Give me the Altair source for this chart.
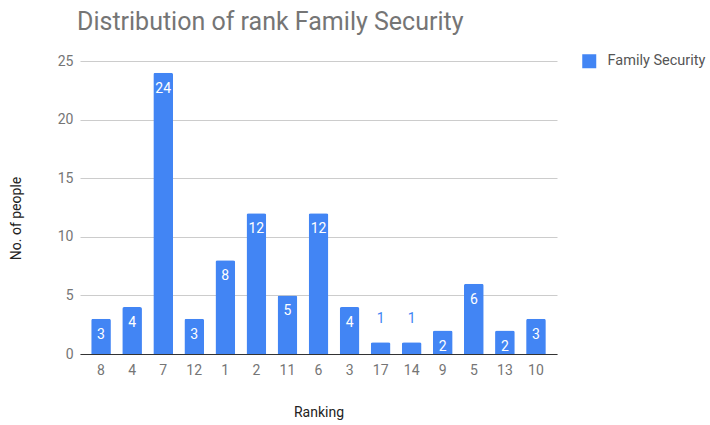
import altair as alt
import pandas as pd

rankings = ["8", "4", "7", "12", "1", "2", "11", "6", "3", "17", "14", "9", "5", "13", "10"]
counts = [3, 4, 24, 3, 8, 12, 5, 12, 4, 1, 1, 2, 6, 2, 3]
series = "Family Security"

df = pd.DataFrame({"Ranking": rankings, "count": counts, "series": [series] * len(rankings)})

FONT = "Roboto"
BLUE = "#4285F4"

x_enc = alt.X(
    "Ranking:N",
    sort=rankings,
    scale=alt.Scale(paddingInner=0.366, paddingOuter=0.36),
    axis=alt.Axis(
        title="Ranking", labelAngle=0, ticks=False, domain=True, domainColor="#333333",
        labelColor="#757575", labelFontSize=14, labelPadding=9, labelFont=FONT,
        titleFont=FONT, titleFontSize=14, titleFontWeight="normal", titleColor="#222222",
        titleY=51, grid=False,
    ),
)
y_enc = alt.Y(
    "count:Q",
    scale=alt.Scale(domain=[0, 25], nice=False),
    axis=alt.Axis(
        title="No. of people", values=[0, 5, 10, 15, 20, 25], ticks=False, domain=False,
        labelColor="#757575", labelFontSize=14, labelPadding=7, labelFont=FONT,
        gridColor="#cccccc", titleFont=FONT, titleFontSize=14, titleFontWeight="normal",
        titleColor="#222222", titleX=-57, titleY=157,
    ),
)

bars = alt.Chart(df).mark_bar(color=BLUE, cornerRadiusTopLeft=2, cornerRadiusTopRight=2).encode(
    x=x_enc,
    y=y_enc,
    color=alt.Color(
        "series:N",
        scale=alt.Scale(domain=[series], range=[BLUE]),
        legend=alt.Legend(
            title=None, orient="none", legendX=502, legendY=-7, symbolType="square",
            symbolSize=196, symbolStrokeWidth=0, labelFont=FONT, labelFontSize=14.5,
            labelColor="#555555", symbolOpacity=1, labelOffset=11,
        ),
    ),
)

inside = alt.Chart(df).transform_filter("datum.count > 1").mark_text(
    color="white", fontSize=14, font=FONT, baseline="middle", dy=16
).encode(x=alt.X("Ranking:N", sort=rankings), y="count:Q", text="count:Q")

above = alt.Chart(df).transform_filter("datum.count <= 1").mark_text(
    color=BLUE, fontSize=14, font=FONT, baseline="middle", dy=-23
).encode(x=alt.X("Ranking:N", sort=rankings), y="count:Q", text="count:Q")

chart = alt.layer(bars, inside, above).properties(
    width=477,
    height=293,
    autosize=alt.AutoSizeParams(type="none"),
    padding={"left": 80, "top": 61, "right": 153, "bottom": 71},
    title=alt.Title(
        "Distribution of rank Family Security", anchor="start", frame="group", font=FONT,
        fontSize=25, fontWeight="normal", color="#757575", offset=19, dx=-3,
    ),
).configure_view(stroke=None)

chart.save("out.html", embed_options={"renderer": "svg", "actions": False})
